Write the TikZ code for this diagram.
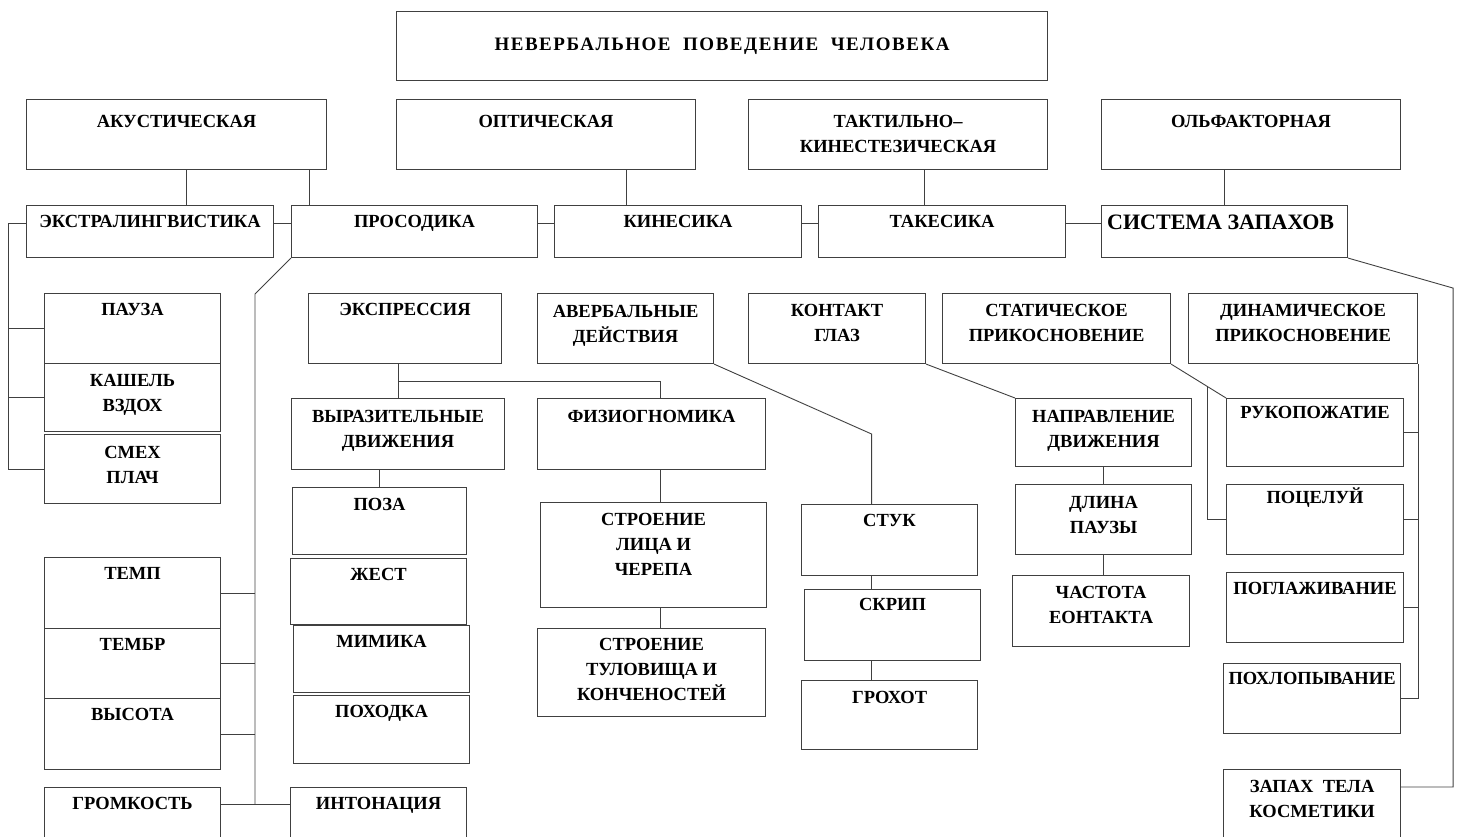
\documentclass[tikz,border=0pt]{standalone}
\usepackage{fontspec}
\setmainfont{Liberation Serif}
\usetikzlibrary{calc}
\tikzset{
  box/.style 2 args={draw=black!75, line width=1.1pt, anchor=north west,
                     inner sep=0pt, minimum width=#1pt, minimum height=#2pt},
  txt/.style={anchor=north, inner sep=0pt, yshift=-10pt, align=center,
              font=\fontsize{18.5}{25}\selectfont\bfseries},
  link/.style={draw=black!75, line width=0.9pt}
}

\begin{document}
\begin{tikzpicture}[x=1pt, y=-1pt]
    \clip (0,0) rectangle (1458,837);

    % Top level
    \node[box={651}{69}, font=\fontsize{19}{25}\selectfont\bfseries\addfontfeature{LetterSpace=8}] (top) at (396,11) {НЕВЕРБАЛЬНОЕ\ \ ПОВЕДЕНИЕ\ \ ЧЕЛОВЕКА};

    % Channels
    \node[box={300}{70}, label={[txt, yshift=-6.5pt]north:АКУСТИЧЕСКАЯ}] (ak) at (26,99) {};
    \node[box={299}{70}, label={[txt, yshift=-6.5pt]north:ОПТИЧЕСКАЯ}] (opt) at (396,99) {};
    \node[box={299}{70}, label={[txt, yshift=-6.5pt]north:{ТАКТИЛЬНО–\\КИНЕСТЕЗИЧЕСКАЯ}}] (takt) at (748,99) {};
    \node[box={299}{70}, label={[txt, yshift=-6.5pt]north:ОЛЬФАКТОРНАЯ}] (olf) at (1101,99) {};

    % Subsystems
    \node[box={247}{52}, label={[txt]north:ЭКСТРАЛИНГВИСТИКА}] (ekstra) at (26,205) {};
    \node[box={246}{52}, label={[txt]north:ПРОСОДИКА}] (pros) at (291,205) {};
    \node[box={247}{52}, label={[txt]north:КИНЕСИКА}] (kin) at (554,205) {};
    \node[box={247}{52}, label={[txt]north:ТАКЕСИКА}] (tak) at (818,205) {};
    \node[box={246}{52}, label={[txt, anchor=north west, xshift=6pt, font=\fontsize{22}{26}\selectfont\bfseries]north west:СИСТЕМА ЗАПАХОВ}] (sist) at (1101,205) {};

    % Extralinguistics
    \node[box={176}{70}, label={[txt]north:ПАУЗА}] (pauza) at (44,293) {};
    \node[box={176}{68}, label={[txt, yshift=-1pt]north:{КАШЕЛЬ\\ВЗДОХ}}] (kash) at (44,363) {};
    \node[box={176}{69}, label={[txt, yshift=-2pt]north:{СМЕХ\\ПЛАЧ}}] (smeh) at (44,434) {};

    % Prosody
    \node[box={176}{71}, label={[txt]north:ТЕМП}] (temp) at (44,557) {};
    \node[box={176}{70}, label={[txt]north:ТЕМБР}] (tembr) at (44,628) {};
    \node[box={176}{71}, label={[txt]north:ВЫСОТА}] (vys) at (44,698) {};
    \node[box={176}{100}, label={[txt]north:ГРОМКОСТЬ}] (grom) at (44,787) {};
    \node[box={176}{100}, label={[txt]north:ИНТОНАЦИЯ}] (intn) at (290,787) {};

    % Kinesics
    \node[box={193}{70}, label={[txt]north:ЭКСПРЕССИЯ}] (ekspr) at (308,293) {};
    \node[box={213}{71}, label={[txt, yshift=-2.5pt]north:{ВЫРАЗИТЕЛЬНЫЕ\\ДВИЖЕНИЯ}}] (vyr) at (291,398) {};
    \node[box={228}{71}, label={[txt, yshift=-2.5pt]north:ФИЗИОГНОМИКА}] (fiz) at (537,398) {};
    \node[box={174}{67}, label={[txt, yshift=-1pt]north:ПОЗА}] (poza) at (292,487) {};
    \node[box={176}{66}, label={[txt]north:ЖЕСТ}] (zhest) at (290,558) {};
    \node[box={176}{67}, label={[txt]north:МИМИКА}] (mim) at (293,625) {};
    \node[box={176}{68}, label={[txt]north:ПОХОДКА}] (pohod) at (293,695) {};
    \node[box={226}{105}, label={[txt, yshift=-1pt]north:{СТРОЕНИЕ\\ЛИЦА И\\ЧЕРЕПА}}] (str1) at (540,502) {};
    \node[box={228}{88}, label={[txt]north:{СТРОЕНИЕ\\ТУЛОВИЩА И\\КОНЧЕНОСТЕЙ}}] (str2) at (537,628) {};
    \node[box={176}{70}, label={[txt, yshift=-2.5pt]north:{АВЕРБАЛЬНЫЕ\\ДЕЙСТВИЯ}}] (averb) at (537,293) {};
    \node[box={176}{71}, label={[txt]north:СТУК}] (stuk) at (801,504) {};
    \node[box={176}{71}, label={[txt, yshift=1pt]north:СКРИП}] (skrip) at (804,589) {};
    \node[box={176}{69}, label={[txt, yshift=-1pt]north:ГРОХОТ}] (groh) at (801,680) {};
    \node[box={177}{70}, label={[txt, yshift=-1.5pt]north:{КОНТАКТ\\ГЛАЗ}}] (kg) at (748,293) {};
    \node[box={176}{68}, label={[txt, yshift=-2.5pt]north:{НАПРАВЛЕНИЕ\\ДВИЖЕНИЯ}}] (napr) at (1015,398) {};
    \node[box={176}{70}, label={[txt, yshift=-2pt]north:{ДЛИНА\\ПАУЗЫ}}] (dlina) at (1015,484) {};
    \node[box={177}{71}, label={[txt, yshift=-1pt]north:{ЧАСТОТА\\ЕОНТАКТА}}] (chast) at (1012,575) {};

    % Takesics
    \node[box={228}{70}, label={[txt, yshift=-1.5pt]north:{СТАТИЧЕСКОЕ\\ПРИКОСНОВЕНИЕ}}] (stat) at (942,293) {};
    \node[box={229}{70}, label={[txt, yshift=-1.5pt]north:{ДИНАМИЧЕСКОЕ\\ПРИКОСНОВЕНИЕ}}] (dyn) at (1188,293) {};
    \node[box={177}{68}, label={[txt, yshift=2pt]north:РУКОПОЖАТИЕ}] (ruk) at (1226,398) {};
    \node[box={177}{70}, label={[txt, yshift=6pt]north:ПОЦЕЛУЙ}] (poc) at (1226,484) {};
    \node[box={177}{70}, label={[txt]north:ПОГЛАЖИВАНИЕ}] (pogl) at (1226,572) {};
    \node[box={177}{70}, label={[txt, yshift=1pt]north:ПОХЛОПЫВАНИЕ}] (pohl) at (1223,663) {};

    % Smells
    \node[box={177}{100}, label={[txt, yshift=-1pt]north:{ЗАПАХ\ \ ТЕЛА\\КОСМЕТИКИ}}] (zap) at (1223,769) {};

    % Channels to subsystems
    \draw[link] ([xshift=10pt]ak.south) coordinate (a1) -- (a1 |- ekstra.north);
    \draw[link] ([xshift=-18pt]ak.south east) coordinate (a2) -- (a2 |- pros.north);
    \draw[link] ([xshift=-70pt]opt.south east) coordinate (a3) -- (a3 |- kin.north);
    \draw[link] ([xshift=26.5pt]takt.south) coordinate (a4) -- (a4 |- tak.north);
    \draw[link] (sist.north) -- (sist.north |- olf.south);
    \foreach \a/\b in {ekstra/pros, pros/kin, kin/tak, tak/sist}
        \draw[link] ([yshift=8pt]\a.east) -- ([yshift=8pt]\b.west);

    % Extralinguistics bus
    \draw[link] ([yshift=8pt]ekstra.west) -- ++(-18,0) coordinate (ebus) |- (smeh.west);
    \foreach \n in {pauza,kash} \draw[link] (\n.west) -- (\n.west -| ebus);

    % Prosody bus
    \coordinate (gline) at ([yshift=-17pt]grom.north east);
    \draw[link] (pros.south west) -- ++(-36,36) coordinate (pbend) -- (pbend |- gline);
    \foreach \n in {temp,tembr,vys} \draw[link] (\n.east) -- (\n.east -| pbend);
    \draw[link] (gline) -- (gline -| intn.west);

    % Expression
    \draw[link] (vyr.north) -- (vyr.north |- ekspr.south);
    \draw[link] ($(vyr.north)!.5!(vyr.north |- ekspr.south)$) -| ([xshift=9pt]fiz.north);
    \draw[link] ([xshift=9pt]fiz.south) coordinate (f1) -- (f1 |- str1.north);
    \draw[link] ([xshift=7pt]str1.south) coordinate (f2) -- (f2 |- str2.north);
    \draw[link] (poza.north) -- (poza.north |- vyr.south);

    % Nonverbal actions
    \coordinate (sk) at ([xshift=-18pt]stuk.north);
    \draw[link] (averb.south east) -- (sk |- 0,434) -- (sk);
    \draw[link] (sk |- stuk.south) -- (sk |- skrip.north);
    \draw[link] (sk |- skrip.south) -- (sk |- groh.north);

    % Eye contact
    \draw[link] (kg.south east) -- (napr.north west);
    \draw[link] (napr.south) -- (napr.south |- dlina.north);
    \draw[link] (dlina.south) -- (dlina.south |- chast.north);

    % Touch
    \draw[link] (stat.south east) -- (ruk.north west);
    \draw[link] ($(stat.south east)!.66!(ruk.north west)$) |- (poc.west);
    \draw[link] (dyn.south east) |- (pohl.east);
    \foreach \n in {ruk,poc,pogl} \draw[link] (\n.east) -- (\n.east -| dyn.south east);

    % Smell
    \draw[link] (sist.south east) -- ++(105,30) |- ([yshift=-18pt]zap.north east);
\end{tikzpicture}
\end{document}
